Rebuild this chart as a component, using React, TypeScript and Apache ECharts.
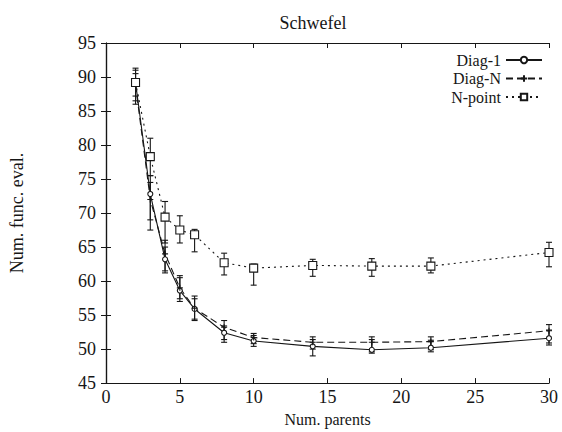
import React, { useEffect, useRef } from "react";
import * as echarts from "echarts";

const parents = [2, 3, 4, 5, 6, 8, 10, 14, 18, 22, 30];

const diag1 = [89.2, 72.8, 63.2, 58.6, 55.9, 52.4, 51.2, 50.4, 49.9, 50.2, 51.6];
const diag1Lo = [86.5, 69.0, 61.2, 57.0, 54.4, 51.0, 50.4, 49.0, 49.4, 49.6, 50.6];
const diag1Hi = [90.5, 75.5, 65.0, 60.5, 57.4, 53.4, 52.0, 51.4, 51.4, 51.3, 52.8];

const diagN = [88.8, 72.0, 64.0, 59.0, 56.0, 53.2, 51.7, 51.0, 51.0, 51.1, 52.7];
const diagNLo = [86.0, 67.5, 61.5, 57.4, 54.2, 51.4, 50.8, 50.0, 49.6, 49.9, 50.9];
const diagNHi = [91.3, 74.5, 66.0, 60.8, 57.8, 54.2, 52.3, 51.8, 51.8, 51.8, 53.6];

const nPoint = [89.2, 78.3, 69.4, 67.5, 66.8, 62.7, 61.9, 62.3, 62.2, 62.2, 64.2];
const nPointLo = [87.2, 75.5, 65.6, 65.6, 64.3, 60.9, 59.4, 60.7, 60.7, 61.2, 62.1];
const nPointHi = [91.0, 81.0, 71.7, 69.6, 67.6, 64.1, 62.5, 63.2, 63.3, 63.4, 65.7];

const xTicks = { min: 0, max: 30, interval: 5 };
const yTicks = { min: 45, max: 95, interval: 5 };

const INK = "#161616";
const SERIF = "'Liberation Serif', 'DejaVu Serif', serif";

function errorSeries(name: string, lo: number[], hi: number[]) {
  return {
    type: "custom",
    name,
    silent: true,
    z: 3,
    data: parents.map((x, i) => [x, lo[i], hi[i]]),
    renderItem: (_params: any, api: any) => {
      const x = api.value(0);
      const pLo = api.coord([x, api.value(1)]);
      const pHi = api.coord([x, api.value(2)]);
      const cap = 3;
      const style = { stroke: INK, lineWidth: 1.1 };
      return {
        type: "group",
        children: [
          { type: "line", shape: { x1: pLo[0], y1: pLo[1], x2: pHi[0], y2: pHi[1] }, style },
          { type: "line", shape: { x1: pLo[0] - cap, y1: pLo[1], x2: pLo[0] + cap, y2: pLo[1] }, style },
          { type: "line", shape: { x1: pHi[0] - cap, y1: pHi[1], x2: pHi[0] + cap, y2: pHi[1] }, style },
        ],
      };
    },
  };
}

function lineSeries(name: string, values: number[], dash: any, symbol: string, size: number) {
  return {
    type: "line",
    name,
    z: 4,
    data: parents.map((x, i) => [x, values[i]]),
    symbol,
    symbolSize: size,
    showAllSymbol: true,
    lineStyle: { color: INK, width: 1.1, type: dash },
    itemStyle: { color: "#ffffff", borderColor: INK, borderWidth: 1.1 },
  };
}

export default function App() {
  const ref = useRef<HTMLDivElement>(null);

  useEffect(() => {
    if (!ref.current) return;
    const chart = echarts.init(ref.current, undefined, { renderer: "svg" });

    const axisCommon = {
      type: "value" as const,
      axisLine: { show: true, lineStyle: { color: INK, width: 1.2 } },
      axisTick: { show: true, inside: true, length: 5, lineStyle: { color: INK, width: 1 } },
      splitLine: { show: false },
    };

    chart.setOption({
      animation: false,
      backgroundColor: "#ffffff",
      title: {
        text: "Schwefel",
        left: 308,
        top: 9,
        textAlign: "center",
        textStyle: { fontFamily: SERIF, fontWeight: "normal", fontSize: 18, color: INK },
      },
      legend: {
        orient: "vertical",
        align: "right",
        right: 14,
        top: 47,
        itemWidth: 36,
        itemHeight: 8,
        itemGap: 2.5,
        data: ["Diag-1", "Diag-N", "N-point"],
        textStyle: { fontFamily: SERIF, fontSize: 16, color: INK },
      },
      grid: { left: 106, right: 13, top: 43, bottom: 42 },
      xAxis: [
        {
          ...axisCommon,
          ...xTicks,
          position: "bottom",
          name: "Num. parents",
          nameLocation: "middle",
          nameGap: 26,
          nameTextStyle: { fontFamily: SERIF, fontSize: 16, color: INK },
          axisLabel: { fontFamily: SERIF, fontSize: 18, color: INK, margin: 5 },
        },
        {
          ...axisCommon,
          ...xTicks,
          position: "top",
          axisLabel: { show: false },
        },
      ],
      yAxis: [
        {
          ...axisCommon,
          ...yTicks,
          position: "left",
          name: "Num. func. eval.",
          nameLocation: "middle",
          nameGap: 80,
          nameRotate: 90,
          nameTextStyle: { fontFamily: SERIF, fontSize: 18, color: INK },
          axisLabel: { fontFamily: SERIF, fontSize: 18, color: INK, margin: 10 },
        },
        {
          ...axisCommon,
          ...yTicks,
          position: "right",
          axisLabel: { show: false },
        },
      ],
      series: [
        errorSeries("Diag-1 err", diag1Lo, diag1Hi),
        errorSeries("Diag-N err", diagNLo, diagNHi),
        errorSeries("N-point err", nPointLo, nPointHi),
        lineSeries("Diag-1", diag1, "solid", "circle", 5),
        lineSeries("Diag-N", diagN, [7, 4], "path://M0,-5 L0,5 M-5,0 L5,0 Z", 6),
        lineSeries("N-point", nPoint, [2, 4], "rect", 8),
      ],
    });

    return () => chart.dispose();
  }, []);

  return (
    <div
      ref={ref}
      style={{ position: "absolute", left: 0, top: 0, width: 562, height: 432 }}
    />
  );
}
